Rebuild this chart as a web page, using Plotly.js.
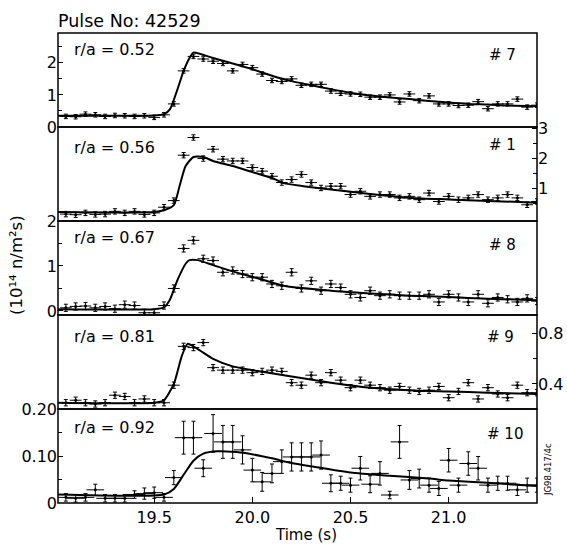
<!DOCTYPE html>
<html>
<head>
<meta charset="utf-8">
<script src="https://cdn.plot.ly/plotly-3.0.1.min.js"></script>
<style>html,body{margin:0;padding:0;background:#fff;}#chart{width:567px;height:552px;}</style>
</head>
<body>
<div id="chart"></div>
<script>
// Shared time base (s)
const time = [19.05,19.10,19.15,19.20,19.25,19.30,19.35,19.40,19.45,19.50,19.55,19.60,19.65,19.70,19.75,19.80,19.85,19.90,19.95,20.00,20.05,20.10,20.15,20.20,20.25,20.30,20.35,20.40,20.45,20.50,20.55,20.60,20.65,20.70,20.75,20.80,20.85,20.90,20.95,21.00,21.05,21.10,21.15,21.20,21.25,21.30,21.35,21.40,21.45];

// Channel #7, r/a = 0.52
const ch7 = [0.33,0.32,0.40,0.38,0.33,0.36,0.35,0.33,0.35,0.30,0.38,0.72,1.75,2.20,2.12,2.05,1.98,1.75,1.95,1.85,1.65,1.45,1.42,1.50,1.30,1.33,1.33,1.12,1.05,1.03,1.02,0.93,0.93,1.00,0.78,1.03,0.82,0.97,0.72,0.72,0.67,0.68,0.79,0.57,0.72,0.72,0.87,0.62,0.68];
const fit7T = [19.00,19.50,19.55,19.58,19.62,19.65,19.68,19.70,19.80,19.90,20.00,20.10,20.20,20.30,20.40,20.50,20.60,20.70,20.80,20.90,21.00,21.10,21.20,21.30,21.45];
const fit7 = [0.35,0.36,0.40,0.55,1.20,1.75,2.15,2.32,2.15,1.98,1.80,1.60,1.43,1.30,1.18,1.07,0.98,0.92,0.87,0.81,0.76,0.72,0.70,0.67,0.65];

// Channel #1, r/a = 0.56
const ch1 = [0.15,0.13,0.19,0.14,0.15,0.24,0.19,0.24,0.14,0.19,0.38,0.60,2.11,2.70,2.00,2.31,1.98,1.92,1.92,1.70,1.58,1.41,1.20,1.30,1.47,1.20,1.02,1.08,1.08,0.80,0.91,0.74,0.80,0.80,0.69,0.74,0.63,0.85,0.57,0.74,0.63,0.69,0.80,0.63,0.69,0.80,0.69,0.46,0.57];
const fit1T = [19.00,19.50,19.55,19.60,19.63,19.66,19.70,19.75,19.80,19.90,20.00,20.10,20.16,20.26,20.40,20.60,20.81,21.00,21.20,21.45];
const fit1 = [0.22,0.22,0.28,0.45,1.10,1.75,2.05,2.05,1.92,1.75,1.55,1.35,1.18,1.08,0.97,0.82,0.69,0.64,0.59,0.53];

// Channel #8, r/a = 0.67
const ch8 = [0.07,0.10,0.11,0.07,0.10,0.05,0.14,0.12,-0.04,-0.04,0.12,0.50,1.39,1.57,1.16,1.12,0.86,0.90,0.82,0.75,0.75,0.60,0.56,0.86,0.50,0.67,0.45,0.60,0.52,0.37,0.30,0.45,0.34,0.37,0.34,0.34,0.34,0.37,0.20,0.37,0.30,0.20,0.37,0.17,0.30,0.26,0.20,0.28,0.22];
const fit8T = [19.00,19.50,19.55,19.58,19.62,19.66,19.68,19.72,19.80,19.90,20.00,20.16,20.40,20.60,20.80,21.00,21.20,21.45];
const fit8 = [0.04,0.04,0.08,0.25,0.70,1.05,1.13,1.13,1.02,0.88,0.76,0.56,0.45,0.39,0.34,0.31,0.27,0.24];

// Channel #9, r/a = 0.81
const ch9 = [0.25,0.27,0.25,0.24,0.25,0.31,0.30,0.25,0.28,0.25,0.25,0.39,0.70,0.69,0.73,0.53,0.51,0.51,0.51,0.49,0.50,0.51,0.50,0.41,0.39,0.47,0.41,0.49,0.43,0.37,0.43,0.39,0.37,0.35,0.38,0.35,0.34,0.35,0.38,0.29,0.34,0.41,0.28,0.37,0.32,0.29,0.39,0.33,0.33];
const fit9T = [19.00,19.50,19.55,19.60,19.64,19.67,19.72,19.80,19.90,20.00,20.16,20.40,20.60,20.80,21.00,21.20,21.45];
const fit9 = [0.25,0.25,0.27,0.40,0.62,0.72,0.68,0.60,0.54,0.51,0.47,0.41,0.37,0.35,0.34,0.33,0.32];

// Channel #10, r/a = 0.92
const ch10 = [0.012,0.010,0.012,0.028,0.010,0.010,0.010,0.018,0.020,0.022,0.012,0.054,0.139,0.139,0.074,0.148,0.130,0.130,0.113,0.070,0.045,0.063,0.088,0.098,0.098,0.098,0.102,0.042,0.042,0.038,0.074,0.040,0.063,0.017,0.130,0.049,0.052,0.038,0.031,0.091,0.038,0.084,0.074,0.038,0.042,0.042,0.028,0.038,0.038];
const err10 = [0.008,0.008,0.008,0.012,0.008,0.008,0.008,0.008,0.012,0.012,0.008,0.015,0.035,0.035,0.018,0.040,0.035,0.035,0.030,0.025,0.020,0.020,0.025,0.030,0.030,0.030,0.030,0.018,0.015,0.015,0.025,0.018,0.025,0.008,0.035,0.020,0.020,0.015,0.015,0.025,0.015,0.025,0.025,0.015,0.015,0.015,0.012,0.015,0.015];
const fit10T = [19.00,19.55,19.60,19.65,19.70,19.75,19.82,19.95,20.10,20.20,20.30,20.50,20.70,20.90,21.00,21.20,21.45];
const fit10 = [0.018,0.018,0.030,0.060,0.090,0.105,0.110,0.107,0.095,0.085,0.078,0.065,0.058,0.052,0.048,0.043,0.036];

const radii = ['r/a = 0.52','r/a = 0.56','r/a = 0.67','r/a = 0.81','r/a = 0.92'];
const channels = ['# 7','# 1','# 8','# 9','# 10'];

const panels = [
  {y: ch7,  err: 0.07, ex: 0.03, ft: fit7T,  fv: fit7,  ya: 'y'},
  {y: ch1,  err: 0.09, ex: 0.03, ft: fit1T,  fv: fit1,  ya: 'y2'},
  {y: ch8,  err: 0.08, ex: 0.03, ft: fit8T,  fv: fit8,  ya: 'y3'},
  {y: ch9,  err: 0.025, ex: 0.03, ft: fit9T, fv: fit9,  ya: 'y4'},
  {y: ch10, err: err10, ex: 0.045, ft: fit10T, fv: fit10, ya: 'y5'}
];

const traces = [];
panels.forEach(p => {
  const ey = Array.isArray(p.err) ? {type:'data', array:p.err, visible:true, color:'black', thickness:1, width:2}
                                  : {type:'constant', value:p.err, visible:true, color:'black', thickness:1, width:2};
  traces.push({
    x: time, y: p.y, xaxis: 'x', yaxis: p.ya, type: 'scatter', mode: 'markers',
    marker: {size: 3, color: 'black'},
    error_y: ey,
    error_x: {type:'constant', value: p.ex, visible:true, color:'black', thickness:1, width:0},
    hoverinfo: 'skip'
  });
  traces.push({
    x: p.ft, y: p.fv, xaxis: 'x', yaxis: p.ya, type: 'scatter', mode: 'lines',
    line: {color: 'black', width: 2, shape: 'spline', smoothing: 0.6},
    hoverinfo: 'skip'
  });
});

const doms = [[0.8,1],[0.6,0.8],[0.4,0.6],[0.2,0.4],[0,0.2]];
const yBase = {showgrid:false, zeroline:false, showline:false, tickmode:'array', ticks:'inside', ticklen:5, tickcolor:'black', anchor:'x'};
const minorY = (vals) => ({tickmode:'array', tickvals:vals, ticks:'inside', ticklen:4, tickcolor:'black', showgrid:false});

const layout = {
  width: 567, height: 552,
  margin: {l:58, r:30, t:33, b:49},
  paper_bgcolor: 'white', plot_bgcolor: 'white',
  showlegend: false,
  font: {family: 'DejaVu Sans, sans-serif', size: 16, color: 'black'},
  xaxis: {domain:[0,1], anchor:'y5', range:[19.01,21.45], showgrid:false, zeroline:false, showline:false,
    tickmode:'array', tickvals:[19.5,20.0,20.5,21.0], ticktext:['19.5','20.0','20.5','21.0'],
    ticks:'inside', ticklen:6, tickcolor:'black', tickwidth:1, tickfont:{size:16}, ticklabelstandoff:3},
  yaxis: Object.assign({}, yBase, {domain:doms[0], range:[0,2.93], side:'left',
    tickvals:[0,1,2], ticktext:['0','1','2'], minor:minorY([0.5,1.5,2.5])}),
  yaxis2: Object.assign({}, yBase, {domain:doms[1], range:[-0.08,3.05], side:'right',
    tickvals:[1,2,3], ticktext:['1','2','3'], minor:minorY([0.5,1.5,2.5])}),
  yaxis3: Object.assign({}, yBase, {domain:doms[2], range:[-0.09,2.0], side:'left',
    tickvals:[0,1,2], ticktext:['0','1','2'], minor:minorY([0.5,1.5])}),
  yaxis4: Object.assign({}, yBase, {domain:doms[3], range:[0.2,0.95], side:'right',
    tickvals:[0.4,0.8], ticktext:['0.4','0.8'], minor:minorY([0.6])}),
  yaxis5: Object.assign({}, yBase, {domain:doms[4], range:[0,0.2], side:'left',
    tickvals:[0,0.1,0.2], ticktext:['0','0.10','0.20'], minor:minorY([0.05,0.15])}),
  shapes: doms.map(d => ({type:'rect', xref:'paper', yref:'paper', x0:0, x1:1, y0:d[0], y1:d[1],
    line:{color:'black', width:1.5}, fillcolor:'rgba(0,0,0,0)'})),
  annotations: []
};

const raY = [0.964, 0.757, 0.564, 0.355, 0.160];
const chY = [0.953, 0.762, 0.549, 0.353, 0.147];
const chX = [0.960, 0.960, 0.960, 0.956, 0.975];
radii.forEach((t,i) => layout.annotations.push({text:t, xref:'paper', yref:'paper', x:0.029, y:raY[i],
  xanchor:'left', yanchor:'middle', showarrow:false, font:{size:16}}));
channels.forEach((t,i) => layout.annotations.push({text:t, xref:'paper', yref:'paper', x:chX[i], y:chY[i],
  xanchor:'right', yanchor:'middle', showarrow:false, font:{size:15}}));
layout.annotations.push({text:'Pulse No: 42529', xref:'paper', yref:'paper', x:0, y:1, xanchor:'left', yanchor:'bottom',
  showarrow:false, font:{size:17.5}, xshift:-2});
layout.annotations.push({text:'(10\u00B9\u2074 n/m\u00B2s)', xref:'paper', yref:'paper', x:-0.088, y:0.506,
  xanchor:'center', yanchor:'middle', textangle:-90, showarrow:false, font:{size:16.5}});
layout.annotations.push({text:'Time (s)', xref:'paper', yref:'paper', x:0.518, y:-0.068,
  xanchor:'center', yanchor:'middle', showarrow:false, font:{size:15}});
layout.annotations.push({text:'JG98.417/4c', xref:'paper', yref:'paper', x:1.023, y:0.07,
  xanchor:'center', yanchor:'middle', textangle:-90, showarrow:false, font:{size:8.5}});

Plotly.newPlot('chart', traces, layout, {displayModeBar:false, staticPlot:true});
</script>
</body>
</html>
